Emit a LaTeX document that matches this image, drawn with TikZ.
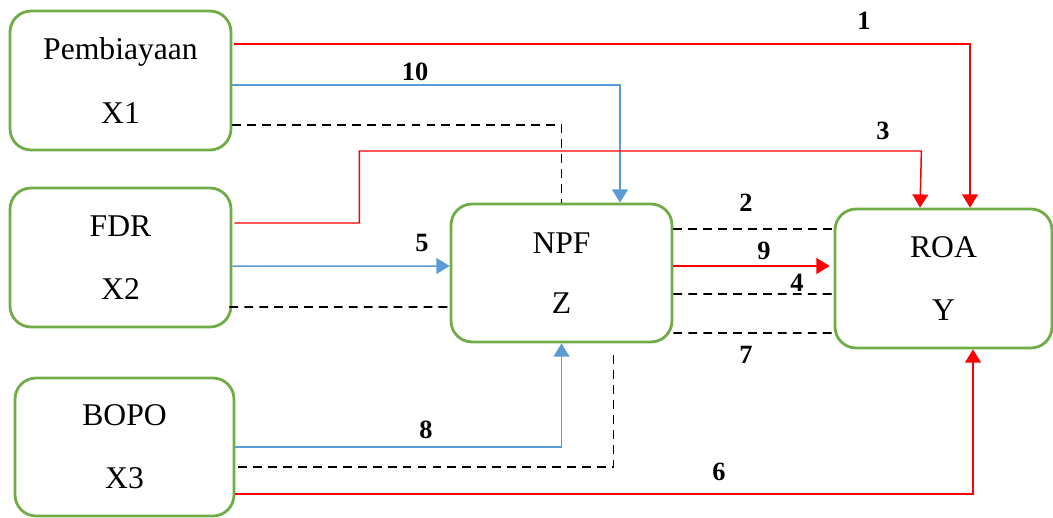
\documentclass[tikz,border=0pt]{standalone}
\usepackage{fontspec}
\setmainfont{Liberation Serif}
\usepackage{tikz}
\usetikzlibrary{calc,positioning,arrows.meta}
\definecolor{boxgreen}{RGB}{112,173,71}
\definecolor{pathblue}{RGB}{91,155,213}
\definecolor{pathred}{RGB}{255,0,0}
\tikzset{
  varbox/.style={draw=boxgreen, line width=1.6pt, fill=white,
                 rounded corners=12pt, align=center, inner sep=0pt,
                 font=\fontsize{18}{22}\selectfont},
  redline/.style={draw=pathred, line width=0.85pt,
                  -{Triangle[length=7.5pt,width=9pt]}},
  blueline/.style={draw=pathblue, line width=0.85pt,
                   -{Triangle[length=7.5pt,width=9pt]}},
  dashline/.style={draw=black, line width=1pt, dash pattern=on 5pt off 3.5pt},
  pathnum/.style={font=\fontsize{15}{18}\selectfont\bfseries, inner sep=1pt},
}
\begin{document}
\begin{tikzpicture}[x=0.02cm, y=-0.02cm]
\useasboundingbox (0,0) rectangle (1053,517);
% variable boxes
\node[varbox, minimum width=4.42cm, minimum height=2.78cm] (x1) at (120.5,80.5) {Pembiayaan\\[14pt]X1};
\node[varbox, minimum width=4.42cm, minimum height=2.78cm] (x2) at (120.5,257.5) {FDR\\[14pt]X2};
\node[varbox, minimum width=4.38cm, minimum height=2.76cm] (x3) at (124.5,447) {BOPO\\[14pt]X3};
\node[varbox, minimum width=4.42cm, minimum height=2.76cm] (npf) at (561.5,273) {NPF\\[12pt]Z};
\node[varbox, minimum width=4.34cm, minimum height=2.78cm] (roa) at (943.5,278.5) {ROA\\[14pt]Y};
% paths out of X1
\draw[redline] ($(x1.east)+(2,-36.5)$) -| ($(roa.north)+(26.5,0)$);
\draw[blueline] ($(x1.east)+(0,4.5)$) -| ($(npf.north)+(58.5,0)$);
\draw[dashline] ($(x1.east)+(0,44.5)$) -| (npf.north);
% paths out of X2
\draw[redline] ($(x2.east)+(2,-34.5)$) -- ++(125,0) |- ++(562,-72)
  -- ($(roa.north)+(-23.5,0)$);
\draw[blueline] ($(x2.east)+(0,8.5)$) -- ($(npf.west)+(0,-7)$);
\draw[dashline] ($(x2.east)+(-3,49.5)$) -- ($(npf.west)+(0,34)$);
% paths out of X3
\draw[blueline] (x3.east) -| (npf.south);
\draw[dashline] ($(x3.east)+(3,20)$) -| ($(npf.south)+(52,8)$);
\draw[redline] ($(x3.east)+(0,47)$) -| ($(roa.south)+(29.5,0)$);
% paths from NPF to ROA
\draw[dashline] ($(npf.east)+(0,-44)$) -- ($(roa.west)+(0,-49.5)$);
\draw[redline] ($(npf.east)+(0,-7)$) -- ($(roa.west)+(-4,-12.5)$);
\draw[dashline] ($(npf.east)+(0,21)$) -- ($(roa.west)+(0,15.5)$);
\draw[dashline] ($(npf.east)+(0,60)$) -- ($(roa.west)+(0,54.5)$);
% path numbers
\node[pathnum] (n1) at (864,21) {1};
\node[pathnum] (n2) at (746,203) {2};
\node[pathnum] (n3) at (883,131) {3};
\node[pathnum] (n4) at (797,283) {4};
\node[pathnum] (n5) at (422,243) {5};
\node[pathnum] (n6) at (719,472) {6};
\node[pathnum] (n7) at (746,355) {7};
\node[pathnum] (n8) at (426,430) {8};
\node[pathnum] (n9) at (764,251) {9};
\node[pathnum] (n10) at (415,72) {10};
\end{tikzpicture}
\end{document}
